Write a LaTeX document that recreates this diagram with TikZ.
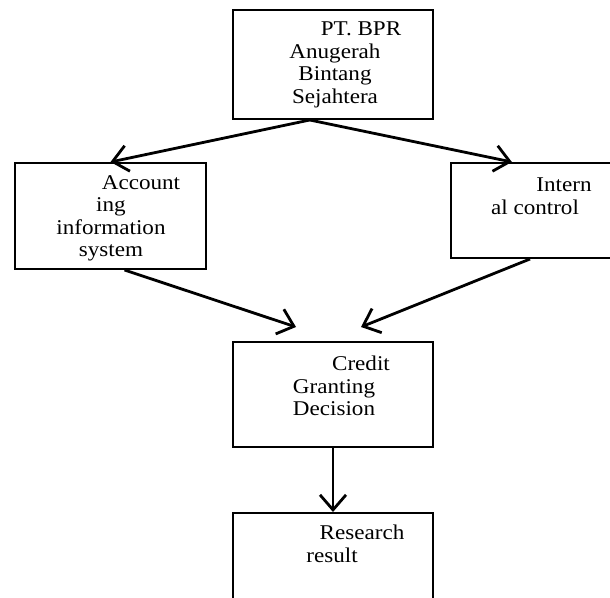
\documentclass[tikz,border=0pt]{standalone}
\usepackage{fontspec}
\setmainfont{Liberation Serif}[FakeStretch=1.1]
\usepackage{tikz}
\usetikzlibrary{calc, arrows.meta}
\tikzset{
  box/.style={draw, line width=2bp, inner sep=0pt},
  boxtext/.style={align=center, inner sep=0pt, anchor=north, font=\fontsize{21bp}{22.5bp}\selectfont},
  flow/.style={line width=2.8bp, -{Straight Barb[length=15bp, width=26bp]}}
}
\begin{document}
\begin{tikzpicture}[x=1bp, y=-1bp]
        \useasboundingbox (0,0) rectangle (610,598);
        \clip (0,0) rectangle (610,598);

        \node[box, minimum width=200bp, minimum height=109bp] (bpr) at (333,64.5) {};
        \node[box, minimum width=191bp, minimum height=106bp] (ais) at (110.5,216) {};
        \node[box, minimum width=168bp, minimum height=95bp] (ic) at (535,210.5) {};
        \node[box, minimum width=200bp, minimum height=105bp] (cgd) at (333,394.5) {};
        \node[box, minimum width=200bp, minimum height=90bp] (rr) at (333,558) {};

        \node[boxtext] (bprtext) at (335,22) {\hspace*{52bp}PT. BPR\\Anugerah\\Bintang\\Sejahtera};
        \node[boxtext] (aistext) at (111,175) {\hspace*{60bp}Account\\ing\\information\\system};
        \node[boxtext] (ictext) at (535,178) {\hspace*{58bp}Intern\\al control};
        \node[boxtext] (cgdtext) at (334,356) {\hspace*{54bp}Credit\\Granting\\Decision};
        \node[boxtext] (rrtext) at (332,525) {\hspace*{60bp}Research\\result};

        \coordinate (split) at ($(bpr.south west)!0.385!(bpr.south east)$);
        \coordinate (icin) at ($(ic.north west)!0.364!(ic.north east)$);
        \coordinate (aisout) at ($(ais.south)+(14,0)$);
        \coordinate (icout) at ($(ic.south)+(-5,0)$);
        \coordinate (cgdleft) at ($(cgd.north west)+(64,-14)$);
        \coordinate (cgdright) at ($(cgd.north west)+(129,-14)$);

        \draw[flow] (split) -- (ais.north);
        \draw[flow] (split) -- (icin);
        \draw[flow] (aisout) -- (cgdleft);
        \draw[flow] (icout) -- (cgdright);
        \draw[flow] (cgd.south) -- (rr.north);
\end{tikzpicture}
\end{document}
